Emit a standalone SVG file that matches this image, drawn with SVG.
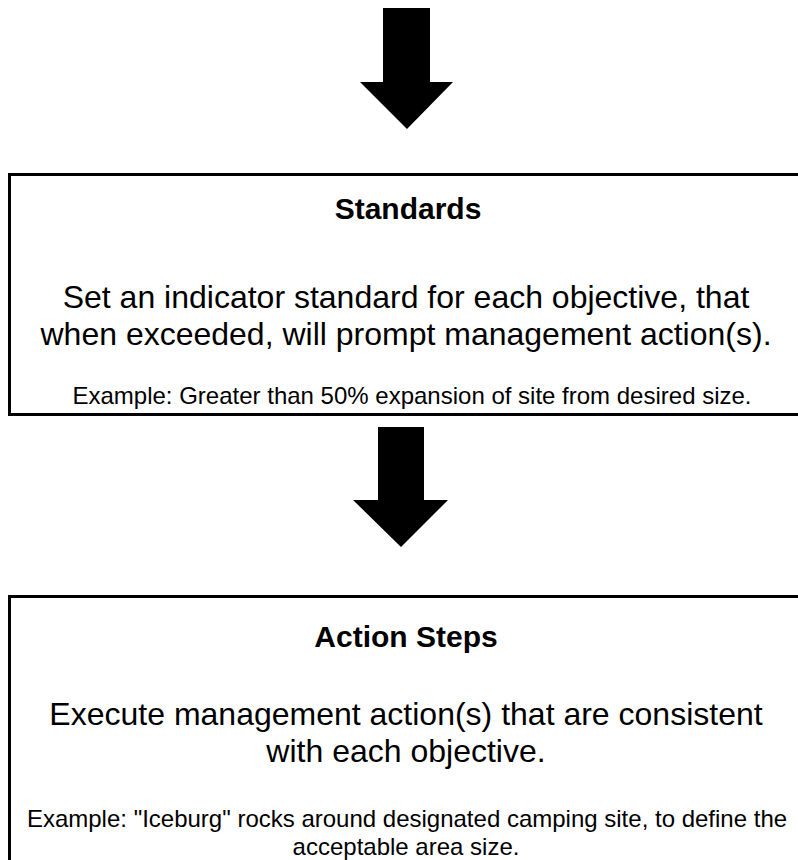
<svg xmlns="http://www.w3.org/2000/svg" width="798" height="860" viewBox="0 0 798 860">
<style>
.box{fill:#fff;stroke:#000;stroke-width:3}
.arrow{fill:#000}
text{font-family:"Liberation Sans",Arial,sans-serif;fill:#000;text-anchor:middle}
.title{font-size:30px;font-weight:bold}
.body{font-size:32px}
.ex{font-size:24px}
</style>
<rect width="798" height="860" fill="#fff"/>
<g id="connectors">
<polygon class="arrow" points="383,8 430,8 430,82 453,82 407,129 360,82 383,82"/>
<polygon class="arrow" points="378,427 424,427 424,500 448,500 401,547 353,500 378,500"/>
</g>
<g id="standards">
<rect class="box" x="9.5" y="174.5" width="800" height="240"/>
<text class="title" x="408" y="219">Standards</text>
<text class="body" x="406" y="308">Set an indicator standard for each objective, that</text>
<text class="body" x="406" y="345">when exceeded, will prompt management action(s).</text>
<text class="ex" x="412" y="404">Example: Greater than 50% expansion of site from desired size.</text>
</g>
<g id="action-steps">
<rect class="box" x="9.5" y="596.5" width="800" height="280"/>
<text class="title" x="406" y="647">Action Steps</text>
<text class="body" x="406" y="725">Execute management action(s) that are consistent</text>
<text class="body" x="406" y="762">with each objective.</text>
<text class="ex" x="407" y="827">Example: "Iceburg" rocks around designated camping site, to define the</text>
<text class="ex" x="406" y="855">acceptable area size.</text>
</g>
</svg>
